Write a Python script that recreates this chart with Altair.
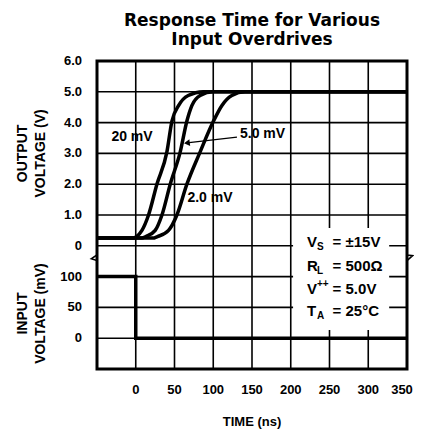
import altair as alt
import pandas as pd

# ---- data ----
t_20mv = [-50, -3, 1, 8, 16.5, 27.3, 40.2, 46.7, 55.2, 67.7, 87, 350]
t_5mv = [-50, 8, 13, 25.1, 33.8, 44.5, 57.4, 66, 72.4, 83.1, 100, 350]
t_2mv = [-50, 22, 28, 42.3, 53.1, 66, 83.1, 100.3, 111, 124, 141, 350]
v_out = [0.25, 0.25, 0.3, 0.5, 1.0, 2.0, 3.05, 4.05, 4.55, 4.88, 5.0, 5.0]

t_in = [-50, 0, 0, 350]
mv_in = [100, 100, 0, 0]

x_ticks = [-50, 0, 50, 100, 150, 200, 250, 300, 350]
x_tick_txt = ["", "0", "50", "100", "150", "200", "250", "300", "350"]
y_tick_pos = [1, 2, 3, 4, 5, 6, 7, 8, 9, 10]
y_tick_txt = ["0", "50", "100", "0", "1.0", "2.0", "3.0", "4.0", "5.0", "6.0"]

FONT = "Liberation Sans, Arial, sans-serif"

# unified vertical position: output volts -> v + 4 ; input mV -> mv/50 + 1
rows = []
for name, ts in [("20 mV", t_20mv), ("5.0 mV", t_5mv), ("2.0 mV", t_2mv)]:
    for i, (t, v) in enumerate(zip(ts, v_out)):
        rows.append({"series": name, "order": i, "t": t, "u": v + 4})
for i, (t, m) in enumerate(zip(t_in, mv_in)):
    rows.append({"series": "input", "order": i, "t": t, "u": m / 50 + 1})
df = pd.DataFrame(rows)

xs = alt.Scale(domain=[-50, 350], nice=False, zero=False)
ys = alt.Scale(domain=[0, 10], nice=False, zero=False)


def XQ(f):
    return alt.X(f, scale=xs, axis=None)


def YQ(f):
    return alt.Y(f, scale=ys, axis=None)


base = alt.Chart(df)

# grid lines
vgrid = alt.Chart(pd.DataFrame({"t": x_ticks})).mark_rule(
    color="black", strokeWidth=1.6).encode(x=XQ("t:Q"))
hgrid = alt.Chart(pd.DataFrame({"u": y_tick_pos})).mark_rule(
    color="black", strokeWidth=1.6).encode(y=YQ("u:Q"))

# tick labels and axis title
xl = pd.DataFrame({"t": x_ticks, "txt": x_tick_txt, "u": [0] * len(x_ticks)})
xlab_style = dict(font=FONT, fontSize=13, fontWeight="bold", color="black",
                  align="center", baseline="middle", dy=21)
x_labels = alt.Chart(xl.iloc[:-1]).mark_text(**xlab_style).encode(
    x=XQ("t:Q"), y=YQ("u:Q"), text="txt:N")
x_label_last = alt.Chart(xl.iloc[-1:]).mark_text(dx=-5, **xlab_style).encode(
    x=XQ("t:Q"), y=YQ("u:Q"), text="txt:N")
yl = pd.DataFrame({"u": y_tick_pos, "txt": y_tick_txt, "t": [-50] * len(y_tick_pos)})
y_labels = alt.Chart(yl).mark_text(
    font=FONT, fontSize=13, fontWeight="bold", color="black", align="right",
    baseline="middle", dx=-15).encode(x=XQ("t:Q"), y=YQ("u:Q"), text="txt:N")
xt = pd.DataFrame({"t": [150], "u": [0], "txt": ["TIME (ns)"]})
x_title = alt.Chart(xt).mark_text(
    font=FONT, fontSize=13, fontWeight="bold", color="black", align="center",
    baseline="alphabetic", dy=57).encode(x=XQ("t:Q"), y=YQ("u:Q"), text="txt:N")

# white annotation box
box = pd.DataFrame({"x": [203], "x2": [327], "y": [1.27], "y2": [4.58]})
box_layer = alt.Chart(box).mark_rect(color="white").encode(
    x=XQ("x:Q"), x2="x2:Q", y=YQ("y:Q"), y2="y2:Q")

curves = base.transform_filter("datum.series != 'input'").mark_line(
    color="black", strokeWidth=3.5, interpolate="monotone").encode(
    x=XQ("t:Q"), y=YQ("u:Q"), detail="series:N", order="order:Q")

pulse = base.transform_filter("datum.series == 'input'").mark_line(
    color="black", strokeWidth=3.5).encode(
    x=XQ("t:Q"), y=YQ("u:Q"), order="order:Q")

# curve labels
lab = pd.DataFrame({
    "t": [-4.8, 134.5, 95.8],
    "u": [7.53, 7.63, 5.55],
    "txt": ["20 mV", "5.0 mV", "2.0 mV"],
    "al": ["center", "left", "center"],
})
lab_c = alt.Chart(lab[lab.al == "center"]).mark_text(
    font=FONT, fontSize=14, fontWeight="bold", color="black", align="center",
    baseline="middle").encode(x=XQ("t:Q"), y=YQ("u:Q"), text="txt:N")
lab_l = alt.Chart(lab[lab.al == "left"]).mark_text(
    font=FONT, fontSize=14, fontWeight="bold", color="black", align="left",
    baseline="middle").encode(x=XQ("t:Q"), y=YQ("u:Q"), text="txt:N")

# arrow to the 5.0 mV curve
arrow = pd.DataFrame({"t": [130.6, 66], "u": [7.53, 7.34], "o": [0, 1]})
arrow_line = alt.Chart(arrow).mark_line(color="black", strokeWidth=1.3).encode(
    x=XQ("t:Q"), y=YQ("u:Q"), order="o:Q")
arrow_head = alt.Chart(arrow[arrow.o == 1]).mark_point(
    shape="triangle-left", filled=True, color="black", size=45, angle=353, opacity=1).encode(
    x=XQ("t:Q"), y=YQ("u:Q"))

# conditions box text
cond = pd.DataFrame({
    "main": ["V", "R", "V", "T"],
    "sub": ["S", "L", "", "A"],
    "sup": ["", "", "++", ""],
    "rest": ["= \u00b115V", "= 500\u03a9", "= 5.0V", "= 25\u00b0C"],
    "u": [4.12, 3.34, 2.60, 1.88],
    "x0": [221, 221, 221, 221],
    "x1": [254, 254, 254, 254],
})
tx = dict(font=FONT, fontWeight="bold", color="black", baseline="middle", align="left")
c_main = alt.Chart(cond).mark_text(fontSize=15, **tx).encode(
    x=XQ("x0:Q"), y=YQ("u:Q"), text="main:N")
c_sub = alt.Chart(cond[cond["sub"] != ""]).mark_text(fontSize=10, dx=10, dy=5, **tx).encode(
    x=XQ("x0:Q"), y=YQ("u:Q"), text="sub:N")
c_sup = alt.Chart(cond[cond["sup"] != ""]).mark_text(fontSize=10, dx=10, dy=-5, **tx).encode(
    x=XQ("x0:Q"), y=YQ("u:Q"), text="sup:N")
c_rest = alt.Chart(cond).mark_text(fontSize=15, **tx).encode(
    x=XQ("x1:Q"), y=YQ("u:Q"), text="rest:N")

# axis break marks
brk = pd.DataFrame({"t": [-50, 350], "u": [3.6, 3.6], "side": ["l", "r"]})
brk_l = alt.Chart(brk[brk.side == "l"]).mark_point(
    shape="M0,-1 L0,-0.45 L-0.8,0.1 L0,0.35 L0,1", filled=False, color="black",
    strokeWidth=1.6, size=200, opacity=1).encode(x=XQ("t:Q"), y=YQ("u:Q"))
brk_r = alt.Chart(brk[brk.side == "r"]).mark_point(
    shape="M0,-1 L0,-0.45 L0.8,-0.35 L0,0.35 L0,1", filled=False, color="black",
    strokeWidth=1.6, size=200, opacity=1).encode(x=XQ("t:Q"), y=YQ("u:Q"))

# y axis titles
yt = pd.DataFrame({"t": [-145, -145], "u": [7.0, 1.8],
                   "txt": ["OUTPUT\nVOLTAGE (V)", "INPUT\nVOLTAGE (mV)"]})
ytitles = alt.Chart(yt).mark_text(
    font=FONT, fontSize=14, fontWeight="bold", color="black", angle=270,
    align="center", baseline="middle", lineBreak="\n", lineHeight=18).encode(
    x=XQ("t:Q"), y=YQ("u:Q"), text="txt:N")

chart = alt.layer(
    vgrid, hgrid, curves, box_layer, pulse, lab_c, lab_l, arrow_line, arrow_head,
    c_main, c_sub, c_sup, c_rest, brk_l, brk_r, ytitles,
    x_labels, x_label_last, y_labels, x_title
).properties(
    width=310, height=308,
    title=alt.TitleParams(
        text=["Response Time for Various", "Input Overdrives"],
        font="DejaVu Sans, sans-serif", fontSize=17, fontWeight="bold",
        color="black", anchor="middle", lineHeight=19, offset=6),
    autosize=alt.AutoSizeParams(type="none"),
    padding={"left": 89, "top": 53, "right": 7, "bottom": 60},
).configure_view(
    stroke="black", strokeWidth=3
)

chart.save("out.html", embed_options={"renderer": "svg", "actions": False})
